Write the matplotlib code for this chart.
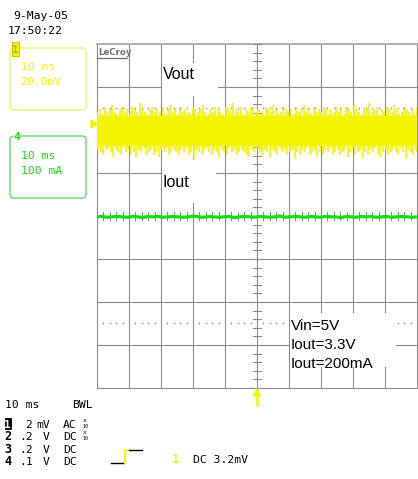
import matplotlib
matplotlib.use("Agg")

import matplotlib.pyplot as plt
import matplotlib.patches as mpatches
import numpy as np

# ── Data ──────────────────────────────────────────────────────────────────────
TIME_DIV_MS = 10          # 10 ms/div
VOUT_MV_DIV = 20.0        # ch1: 2 mV x10 probe -> 20 mV/div
IOUT_MA_DIV = 100.0       # ch4: 100 mA/div

# Vout ripple envelope (mV around its mean), left -> right across the screen
vout_hi_mv = [9, 10, 8, 11, 9, 10, 12, 9, 8, 10, 11, 9, 10, 8, 11, 10, 9, 13, 10, 9, 8, 10, 11, 9, 10, 9, 11, 8, 10, 12, 9, 10,
              8, 11, 9, 10, 9, 8, 11, 10, 9, 10, 12, 9, 8, 10, 9, 11, 10, 9, 8, 11, 10, 9, 13, 10, 9, 11, 8, 10, 9, 10, 11, 9,
              10, 8, 9, 11, 10, 9, 12, 10, 8, 9, 11, 10, 9, 10, 8, 11, 9, 10, 12, 9, 10, 8, 11, 9, 10, 9, 11, 10, 8, 10, 9, 11,
              9, 10, 8, 11, 10, 9, 12, 10, 9, 8, 11, 10, 13, 9, 10, 11, 8, 10, 9, 11, 10, 9, 12, 10, 8, 9, 11, 10, 9, 10, 8, 11]
vout_lo_mv = [-9, -10, -11, -9, -8, -10, -12, -9, -10, -11, -8, -10, -9, -11, -10, -12, -9, -10, -8, -11, -10, -9, -11, -10, -12, -9, -10, -8, -11, -10, -9, -10,
              -11, -9, -10, -8, -11, -10, -13, -9, -10, -11, -9, -8, -10, -11, -9, -10, -12, -9, -10, -11, -8, -10, -9, -11, -10, -9, -10, -11, -12, -9, -10, -8,
              -10, -11, -9, -10, -12, -9, -10, -11, -8, -10, -9, -11, -10, -9, -13, -10, -11, -9, -10, -8, -11, -10, -9, -12, -10, -11, -9, -10, -8, -11, -10, -9,
              -11, -10, -9, -12, -10, -8, -11, -10, -9, -13, -10, -11, -9, -10, -8, -11, -12, -10, -9, -11, -10, -9, -10, -11, -8, -10, -13, -9, -10, -11, -9, -10]
VOUT_CORE_MV = 7.0        # solid part of the band

# Iout trace (mA around its offset)
iout_ma = [0, 1, -1, 0, 1, 0, -1, 1, 0, -2, 1, 0, 1, -1, 0, 1, 0, -1, 0, 2, 0, -1, 1, 0, -1, 0, 1, -2, 0, 1, 0, -1,
           1, 0, -1, 0, 2, -1, 0, 1, 0, -1, 1, 0, -1, 1, 0, 0, -2, 1, 0, -1, 1, 0, 1, -1, 0, 1, -1, 0, 1, 0, -1, 0]

ch_labels   = ["1", "2", "3", "4"]
ch_scale    = ["2", ".2", ".2", ".1"]
ch_units    = ["mV", "V", "V", "V"]
ch_coupling = ["AC", "DC", "DC", "DC"]
ch_probe    = [True, True, False, False]

notes = ["Vin=5V", "Iout=3.3V", "Iout=200mA"]

YEL = "#f4f400"
GRN = "#10e010"
GRID = "#8c8c8c"
MONO = "DejaVu Sans Mono"
SANS = "Liberation Sans"

# ── Figure ────────────────────────────────────────────────────────────────────
W, H = 418, 479
fig = plt.figure(figsize=(W / 100, H / 100), dpi=100, facecolor="white")

# scope graticule, in divisions
ax = fig.add_axes([97 / W, 1 - 388 / H, 320 / W, 344 / H])
ax.set_xlim(-5, 5)
ax.set_ylim(-4, 4)
ax.axis("off")

for gx in range(-5, 6):
    ax.axvline(gx, color=GRID, lw=0.8, clip_on=False, zorder=1)
for gy in range(-4, 5):
    ax.axhline(gy, color=GRID, lw=0.8, clip_on=False, zorder=1)
ax.axhline(4, color="#b0b0b0", lw=1.4, clip_on=False, zorder=1)

# minor ticks on the centre axes
for ty in np.arange(-4, 4.01, 0.2):
    ax.plot([-0.13, 0.13], [ty, ty], color=GRID, lw=0.8, zorder=1)
for tx in np.arange(-5, 5.01, 0.2):
    ax.plot([tx, tx], [-0.09, 0.09], color=GRID, lw=0.8, zorder=1)

# dotted cursor rows
dots = [d for d in np.arange(-5, 5.01, 0.2) if abs(d - round(d)) > 0.05]
for cy in (2.5, -2.5):
    ax.plot(dots, [cy] * len(dots), ls="none", marker="s", ms=1.0, mew=0,
            color="#8a8a8a", zorder=5)

# Vout band
VOUT_POS = 1.98
n = len(vout_hi_mv)
t_ms = np.linspace(-5 * TIME_DIV_MS, 5 * TIME_DIV_MS, n)
t_div = t_ms / TIME_DIV_MS
half = (t_div[1] - t_div[0]) / 2
ax.fill_between([-5, 5], VOUT_POS - VOUT_CORE_MV / VOUT_MV_DIV, VOUT_POS + VOUT_CORE_MV / VOUT_MV_DIV,
                color=YEL, lw=0, zorder=3)
ax.vlines(t_div, VOUT_POS, VOUT_POS + np.array(vout_hi_mv) / VOUT_MV_DIV, color=YEL, lw=1.2, zorder=3)
ax.vlines(np.clip(t_div + half, -5, 5), VOUT_POS, VOUT_POS + np.array(vout_lo_mv) / VOUT_MV_DIV,
          color=YEL, lw=1.2, zorder=3)

# Iout trace
ti = np.linspace(-5, 5, len(iout_ma))
ax.plot(ti, -0.02 + np.array(iout_ma) / IOUT_MA_DIV, color=GRN, lw=2.3, zorder=4, solid_capstyle="butt")

# ── Overlay in pixel coordinates ──────────────────────────────────────────────
ov = fig.add_axes([0, 0, 1, 1], zorder=5)
ov.set_xlim(0, W)
ov.set_ylim(H, 0)
ov.axis("off")
ov.patch.set_visible(False)

# white label boxes on the graticule
for (bx, by, bw, bh) in [(162, 63, 56, 33), (162, 160, 54, 43), (290, 313, 106, 54)]:
    ov.add_patch(mpatches.Rectangle((bx, by), bw, bh, facecolor="white", edgecolor="none"))

ov.text(163, 79, "Vout", family=SANS, fontsize=11.5, color="black", va="baseline")
ov.text(163, 187, "Iout", family=SANS, fontsize=11.5, color="black", va="baseline")
for i, line in enumerate(notes):
    ov.text(291, 330 + i * 19, line, family=SANS, fontsize=11, color="black", va="baseline")

# LeCroy badge
ov.text(98, 55, "LeCroy", family="DejaVu Sans Condensed", fontsize=6.2, fontweight="bold",
        color="#707070", va="baseline")
ov.plot([98, 127], [57.5, 57.5], color="#707070", lw=0.9)

# date / time
ov.text(13, 19, "9-May-05", family=MONO, fontsize=8.2, va="baseline")
ov.text(8, 34, "17:50:22", family=MONO, fontsize=8.2, va="baseline")

# channel 1 box
ov.add_patch(mpatches.FancyBboxPatch((10, 48), 76, 62, boxstyle="round,pad=0,rounding_size=4",
                                     facecolor="none", edgecolor="#f0f070", lw=1.0))
ov.add_patch(mpatches.Rectangle((12, 42), 7, 14, facecolor=YEL, edgecolor="#d0c800", lw=0.8))
ov.text(15.5, 49.5, "1", family=MONO, fontsize=8, fontweight="bold", color="#c8b400", ha="center", va="center")
ov.text(21, 70, "10 ms", family=MONO, fontsize=8.2, color=YEL, va="baseline")
ov.text(20, 85, "20.0mV", family=MONO, fontsize=8.2, color=YEL, va="baseline")

# channel 4 box
ov.add_patch(mpatches.FancyBboxPatch((10, 136), 76, 62, boxstyle="round,pad=0,rounding_size=4",
                                     facecolor="none", edgecolor="#60d860", lw=1.0))
ov.text(16.5, 137, "4", family=MONO, fontsize=8, fontweight="bold", color=GRN, ha="center", va="center",
        bbox=dict(facecolor="white", edgecolor="none", pad=0.3))
ov.text(21, 159, "10 ms", family=MONO, fontsize=8.2, color=GRN, va="baseline")
ov.text(21, 174, "100 mA", family=MONO, fontsize=8.2, color=GRN, va="baseline")

# channel 1 ground marker and trigger arrow
ov.add_patch(mpatches.Polygon([(91, 120), (91, 128), (97, 124)], closed=True, color=YEL))
ov.plot([257, 257], [395, 405], color=YEL, lw=1.8)
ov.add_patch(mpatches.Polygon([(253.5, 396), (260.5, 396), (257, 389)], closed=True, color=YEL))

# bottom status block
ov.text(5, 408, "10 ms", family=MONO, fontsize=8.2, va="baseline")
ov.text(72, 408, "BWL", family=MONO, fontsize=8.2, va="baseline")
for i, lab in enumerate(ch_labels):
    yb = 428 + i * 12.3
    if i == 0:
        ov.add_patch(mpatches.Rectangle((4.5, yb - 10), 6.5, 11, facecolor="black", edgecolor="black", lw=0.6))
        ov.text(7.7, yb, lab, family=MONO, fontsize=8, fontweight="bold", color="white", ha="center", va="baseline")
    else:
        ov.text(7.7, yb, lab, family=MONO, fontsize=8.6, fontweight="bold", color="black", ha="center", va="baseline")
    ov.text(32.5, yb, ch_scale[i], family=MONO, fontsize=8.2, ha="right", va="baseline")
    ov.text(50, yb, ch_units[i], family=MONO, fontsize=8.2, ha="right", va="baseline")
    ov.text(63, yb, ch_coupling[i], family=MONO, fontsize=8.2, va="baseline")
    if ch_probe[i]:
        ov.text(85, yb - 6.5, "x", family=MONO, fontsize=4.5, ha="center", va="baseline")
        ov.text(85, yb, "10", family=MONO, fontsize=3.6, ha="center", va="baseline")

# trigger symbol and level
ov.plot([111, 123.5], [463, 463], color="black", lw=1.0)
ov.plot([124.5, 124.5, 128], [463, 450, 450], color=YEL, lw=1.4)
ov.plot([129, 142], [450, 450], color="black", lw=1.0)
ov.text(175, 463, "1", family=MONO, fontsize=8.6, color=YEL, fontweight="bold", ha="center", va="baseline")
ov.text(193, 463, "DC 3.2mV", family=MONO, fontsize=8.2, va="baseline")

fig.savefig("out.png", dpi=100, facecolor="white")
